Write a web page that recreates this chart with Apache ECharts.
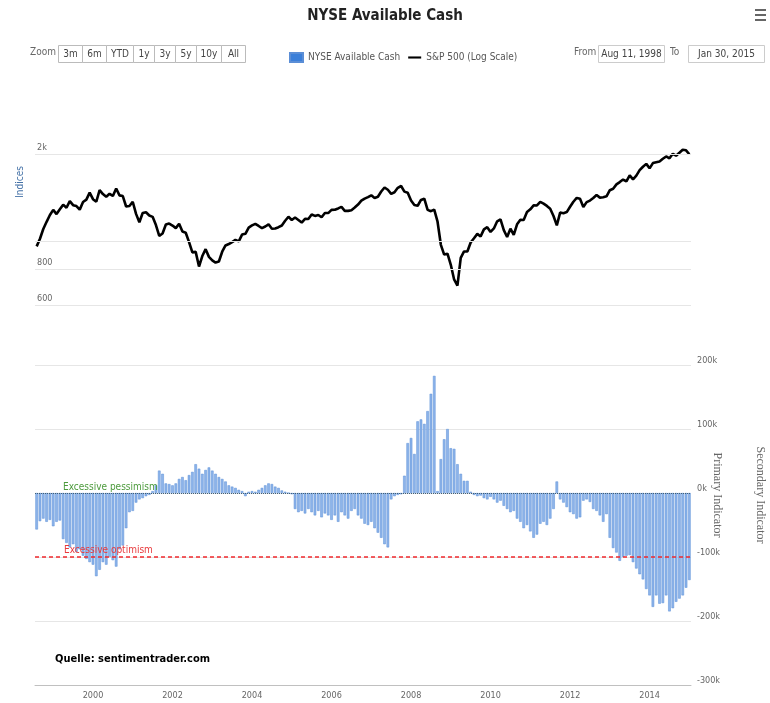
<!DOCTYPE html>
<html>
<head>
<meta charset="utf-8">
<script src="https://cdn.jsdelivr.net/npm/echarts@6/dist/echarts.min.js"></script>
<style>
html, body { margin: 0; padding: 0; background: #fff; }
#chart1 { width: 770px; height: 703px; }
</style>
</head>
<body>
<div id="chart1"></div>
<script>
var FONT = "'Liberation Sans Narrow', 'DejaVu Sans Condensed', sans-serif";

// months Aug 1998 .. Jan 2015
var startYear = 1998, startMonth = 8, monthCount = 198;
var months = [];
for (var i = 0; i < monthCount; i++) {
	var m = startMonth - 1 + i;
	var mm = m % 12 + 1;
	months.push((startYear + Math.floor(m / 12)) + '-' + (mm < 10 ? '0' + mm : mm));
}

// S&P 500, monthly
var spx = [
	957, 1017, 1099, 1164, 1229,
	1280, 1238, 1286, 1335, 1302, 1373, 1329, 1320, 1283, 1363, 1389, 1469,
	1394, 1366, 1499, 1452, 1421, 1455, 1431, 1518, 1437, 1429, 1315, 1320,
	1366, 1240, 1160, 1249, 1256, 1224, 1211, 1134, 1041, 1060, 1139, 1148,
	1130, 1107, 1147, 1077, 1067, 990, 912, 916, 815, 886, 936, 880,
	856, 841, 848, 917, 964, 975, 990, 1008, 996, 1051, 1058, 1112,
	1131, 1145, 1126, 1107, 1121, 1141, 1102, 1104, 1115, 1130, 1174, 1212,
	1181, 1204, 1181, 1157, 1192, 1191, 1234, 1220, 1229, 1207, 1249, 1248,
	1280, 1281, 1295, 1311, 1270, 1270, 1277, 1304, 1336, 1378, 1401, 1418,
	1438, 1407, 1421, 1482, 1531, 1503, 1455, 1474, 1527, 1549, 1481, 1468,
	1379, 1331, 1323, 1386, 1400, 1280, 1267, 1283, 1165, 969, 896, 903,
	826, 735, 700, 873, 919, 919, 987, 1021, 1057, 1036, 1096, 1115,
	1074, 1104, 1169, 1187, 1089, 1031, 1102, 1049, 1141, 1183, 1181, 1258,
	1286, 1327, 1326, 1364, 1345, 1321, 1292, 1219, 1131, 1253, 1247, 1258,
	1312, 1366, 1408, 1398, 1310, 1362, 1379, 1407, 1441, 1412, 1416, 1426,
	1498, 1515, 1569, 1598, 1631, 1606, 1686, 1633, 1682, 1757, 1806, 1848,
	1783, 1859, 1872, 1884, 1924, 1960, 1931, 2003, 1972, 2018, 2068, 2059,
	1995
];

// NYSE available cash, in k (millions)
var cash = [
	-57, -44, -40, -45, -42,
	-52, -45, -43, -72, -78, -85, -80, -92, -88, -98, -103, -108,
	-112, -130, -120, -108, -112, -100, -105, -115, -88, -82, -55, -30,
	-28, -15, -10, -8, -5, -3, 3, 12, 35, 30, 15, 14,
	12, 15, 22, 25, 20, 28, 33, 45, 38, 30, 36, 40,
	35, 30, 25, 22, 18, 12, 10, 8, 5, 3, -5, 2,
	3, 2, 5, 8, 12, 15, 14, 10, 8, 4, 2, 0,
	-2, -25, -30, -28, -32, -25, -30, -35, -28, -38, -32, -35,
	-42, -35, -45, -30, -35, -40, -28, -25, -35, -40, -48, -50,
	-45, -55, -62, -70, -80, -85, -10, -5, -3, -2, 27, 78,
	86, 61, 112, 115, 108, 128, 155, 183, 3, 53, 84, 100,
	70, 69, 45, 30, 19, 19, 2, -3, -5, -4, -8, -10,
	-6, -10, -15, -12, -20, -25, -30, -28, -40, -45, -55, -50,
	-60, -70, -65, -48, -45, -50, -40, -25, 18, -10, -15, -22,
	-30, -33, -40, -38, -12, -10, -14, -25, -28, -35, -45, -33,
	-70, -86, -93, -106, -100, -98, -97, -108, -118, -127, -135, -150,
	-160, -178, -160, -173, -172, -160, -185, -180, -170, -165, -160, -148,
	-136
];

var indexTicks = [2000, 1000, 800, 600];
var indexTickLabels = ['2k', '', '800', '600'];
var pessimismLevel = 0;
var optimismLevel = -100;
var zoomButtons = ['3m', '6m', 'YTD', '1y', '3y', '5y', '10y', 'All'];
var zoomWidths = [24, 24, 27, 21, 21, 21, 25, 24];
var fromDate = 'Aug 11, 1998';
var toDate = 'Jan 30, 2015';

var chart1 = echarts.init(document.getElementById('chart1'));

function isYearLabel(idx, val) {
	var p = val.split('-');
	return p[1] === '01' && (+p[0]) % 2 === 0;
}

var graphics = [];
graphics.push({ type: 'text', left: 30, top: 47, style: { text: 'Zoom', font: '10px ' + FONT, fill: '#666' } });
var bx = 58;
zoomButtons.forEach(function (b, k) {
	graphics.push({
		type: 'group', left: bx, top: 45,
		children: [
			{ type: 'rect', shape: { x: 0, y: 0, width: zoomWidths[k], height: 17 }, style: { fill: '#fff', stroke: '#bbb', lineWidth: 1 } },
			{ type: 'text', x: zoomWidths[k] / 2, y: 9, style: { text: b, font: '10px ' + FONT, fill: '#444', align: 'center', verticalAlign: 'middle' } }
		]
	});
	bx += zoomWidths[k];
});
graphics.push({ type: 'text', left: 574, top: 47, style: { text: 'From', font: '10px ' + FONT, fill: '#666' } });
graphics.push({
	type: 'group', left: 598, top: 45,
	children: [
		{ type: 'rect', shape: { x: 0, y: 0, width: 66, height: 17 }, style: { fill: '#fff', stroke: '#ccc' } },
		{ type: 'text', x: 33, y: 9, style: { text: fromDate, font: '10px ' + FONT, fill: '#444', align: 'center', verticalAlign: 'middle' } }
	]
});
graphics.push({ type: 'text', left: 670, top: 47, style: { text: 'To', font: '10px ' + FONT, fill: '#666' } });
graphics.push({
	type: 'group', left: 688, top: 45,
	children: [
		{ type: 'rect', shape: { x: 0, y: 0, width: 76, height: 17 }, style: { fill: '#fff', stroke: '#ccc' } },
		{ type: 'text', x: 38, y: 9, style: { text: toDate, font: '10px ' + FONT, fill: '#444', align: 'center', verticalAlign: 'middle' } }
	]
});
// menu icon
[0, 5, 10].forEach(function (dy) {
	graphics.push({ type: 'rect', left: 755, top: 9 + dy, shape: { width: 11, height: 2 }, style: { fill: '#666' } });
});
graphics.push({ type: 'text', x: 20, y: 182, rotation: Math.PI / 2, style: { text: 'Indices', font: '10px ' + FONT, fill: '#4572a7', align: 'center', verticalAlign: 'middle' } });
graphics.push({ type: 'text', x: 717, y: 495, rotation: -Math.PI / 2, style: { text: 'Primary Indicator', font: '12px "Liberation Serif", serif', fill: '#666', align: 'center', verticalAlign: 'middle' } });
graphics.push({ type: 'text', x: 760, y: 495, rotation: -Math.PI / 2, style: { text: 'Secondary Indicator', font: '12px "Liberation Serif", serif', fill: '#666', align: 'center', verticalAlign: 'middle' } });
graphics.push({ type: 'text', left: 55, top: 654, style: { text: 'Quelle: sentimentrader.com', font: 'bold 11px ' + FONT, fill: '#000' } });

var option = {
	backgroundColor: '#fff',
	textStyle: { fontFamily: FONT },
	title: {
		text: 'NYSE Available Cash',
		left: 'center',
		top: 4,
		textStyle: { fontSize: 15, fontWeight: 'bold', color: '#222', fontFamily: FONT }
	},
	legend: {
		left: 284, top: 47,
		itemWidth: 13, itemHeight: 9, itemGap: 8,
		textStyle: { fontSize: 10, color: '#555', fontFamily: FONT },
		data: [
			{ name: 'NYSE Available Cash', icon: 'rect', itemStyle: { color: '#3b7fd9' } },
			{ name: 'S&P 500 (Log Scale)', icon: 'path://M0,0H16V2.6H0Z', itemStyle: { color: '#000' } }
		]
	},
	grid: [
		{ left: 35, right: 79, top: 142, height: 165 },
		{ left: 35, right: 79, top: 365, height: 320 }
	],
	xAxis: [
		{ gridIndex: 0, type: 'category', data: months, show: false },
		{
			gridIndex: 1, type: 'category', data: months,
			axisLine: { onZero: false, lineStyle: { color: '#c0c0c0' } },
			axisTick: { interval: isYearLabel, length: 4, lineStyle: { color: '#c0c0c0' } },
			axisLabel: {
				interval: isYearLabel,
				formatter: function (v) { return v.split('-')[0]; },
				fontSize: 9, color: '#666', margin: 6
			}
		}
	],
	yAxis: [
		{
			gridIndex: 0, type: 'log', logBase: 10, min: 590, max: 2200,
			axisLine: { show: false }, axisTick: { show: false },
			axisLabel: { show: false }, splitLine: { show: false }
		},
		{
			gridIndex: 1, type: 'value', position: 'right',
			min: -300, max: 200, interval: 100,
			axisLine: { show: false }, axisTick: { show: false },
			axisLabel: { formatter: '{value}k', fontSize: 9, color: '#666', margin: 6, verticalAlign: 'bottom' },
			splitLine: { lineStyle: { color: '#e6e6e6' } }
		}
	],
	series: [
		{
			name: 'grid', type: 'line', xAxisIndex: 0, yAxisIndex: 0, data: [], z: 1,
			markLine: {
				silent: true, symbol: 'none', animation: false,
				lineStyle: { color: '#e6e6e6', type: 'solid', width: 1 },
				label: { position: 'insideStartTop', fontSize: 9, color: '#666', distance: 2 },
				data: indexTicks.map(function (v, k) {
					return { yAxis: v, label: { formatter: indexTickLabels[k] } };
				})
			}
		},
		{
			name: 'S&P 500 (Log Scale)', type: 'line', xAxisIndex: 0, yAxisIndex: 0,
			data: spx, symbol: 'none', z: 3,
			color: '#000',
			lineStyle: { color: '#000', width: 2.6 }
		},
		{
			name: 'NYSE Available Cash', type: 'bar', xAxisIndex: 1, yAxisIndex: 1,
			data: cash, barWidth: '78%',
			itemStyle: { color: '#8db4ea', borderColor: '#5b8ed6', borderWidth: 0.5 }
		},
		{
			name: 'pessimism', type: 'line', xAxisIndex: 1, yAxisIndex: 1, data: [], z: 4,
			color: '#3f5f78',
			itemStyle: { color: '#3f5f78' },
			markLine: {
				silent: true, symbol: 'none', animation: false,
				lineStyle: { color: '#3f5f78', type: 'dotted', width: 1 },
				label: { position: 'insideStartTop', formatter: 'Excessive pessimism', color: '#4c9a3c', fontSize: 10, padding: [0, 0, 0, 27], distance: 1 },
				data: [{ yAxis: pessimismLevel }]
			}
		},
		{
			name: 'optimism', type: 'line', xAxisIndex: 1, yAxisIndex: 1, data: [], z: 4,
			color: '#f0282c',
			itemStyle: { color: '#f0282c' },
			markLine: {
				silent: true, symbol: 'none', animation: false,
				lineStyle: { color: '#f0282c', type: [4, 3], width: 1.6, opacity: 1 },
				label: { position: 'insideStartTop', formatter: 'Excessive optimism', color: '#e8393c', fontSize: 10, padding: [0, 0, 0, 27], distance: 2 },
				data: [{ yAxis: optimismLevel }]
			}
		}
	],
	graphic: graphics
};
chart1.setOption(option);
</script>
</body>
</html>
